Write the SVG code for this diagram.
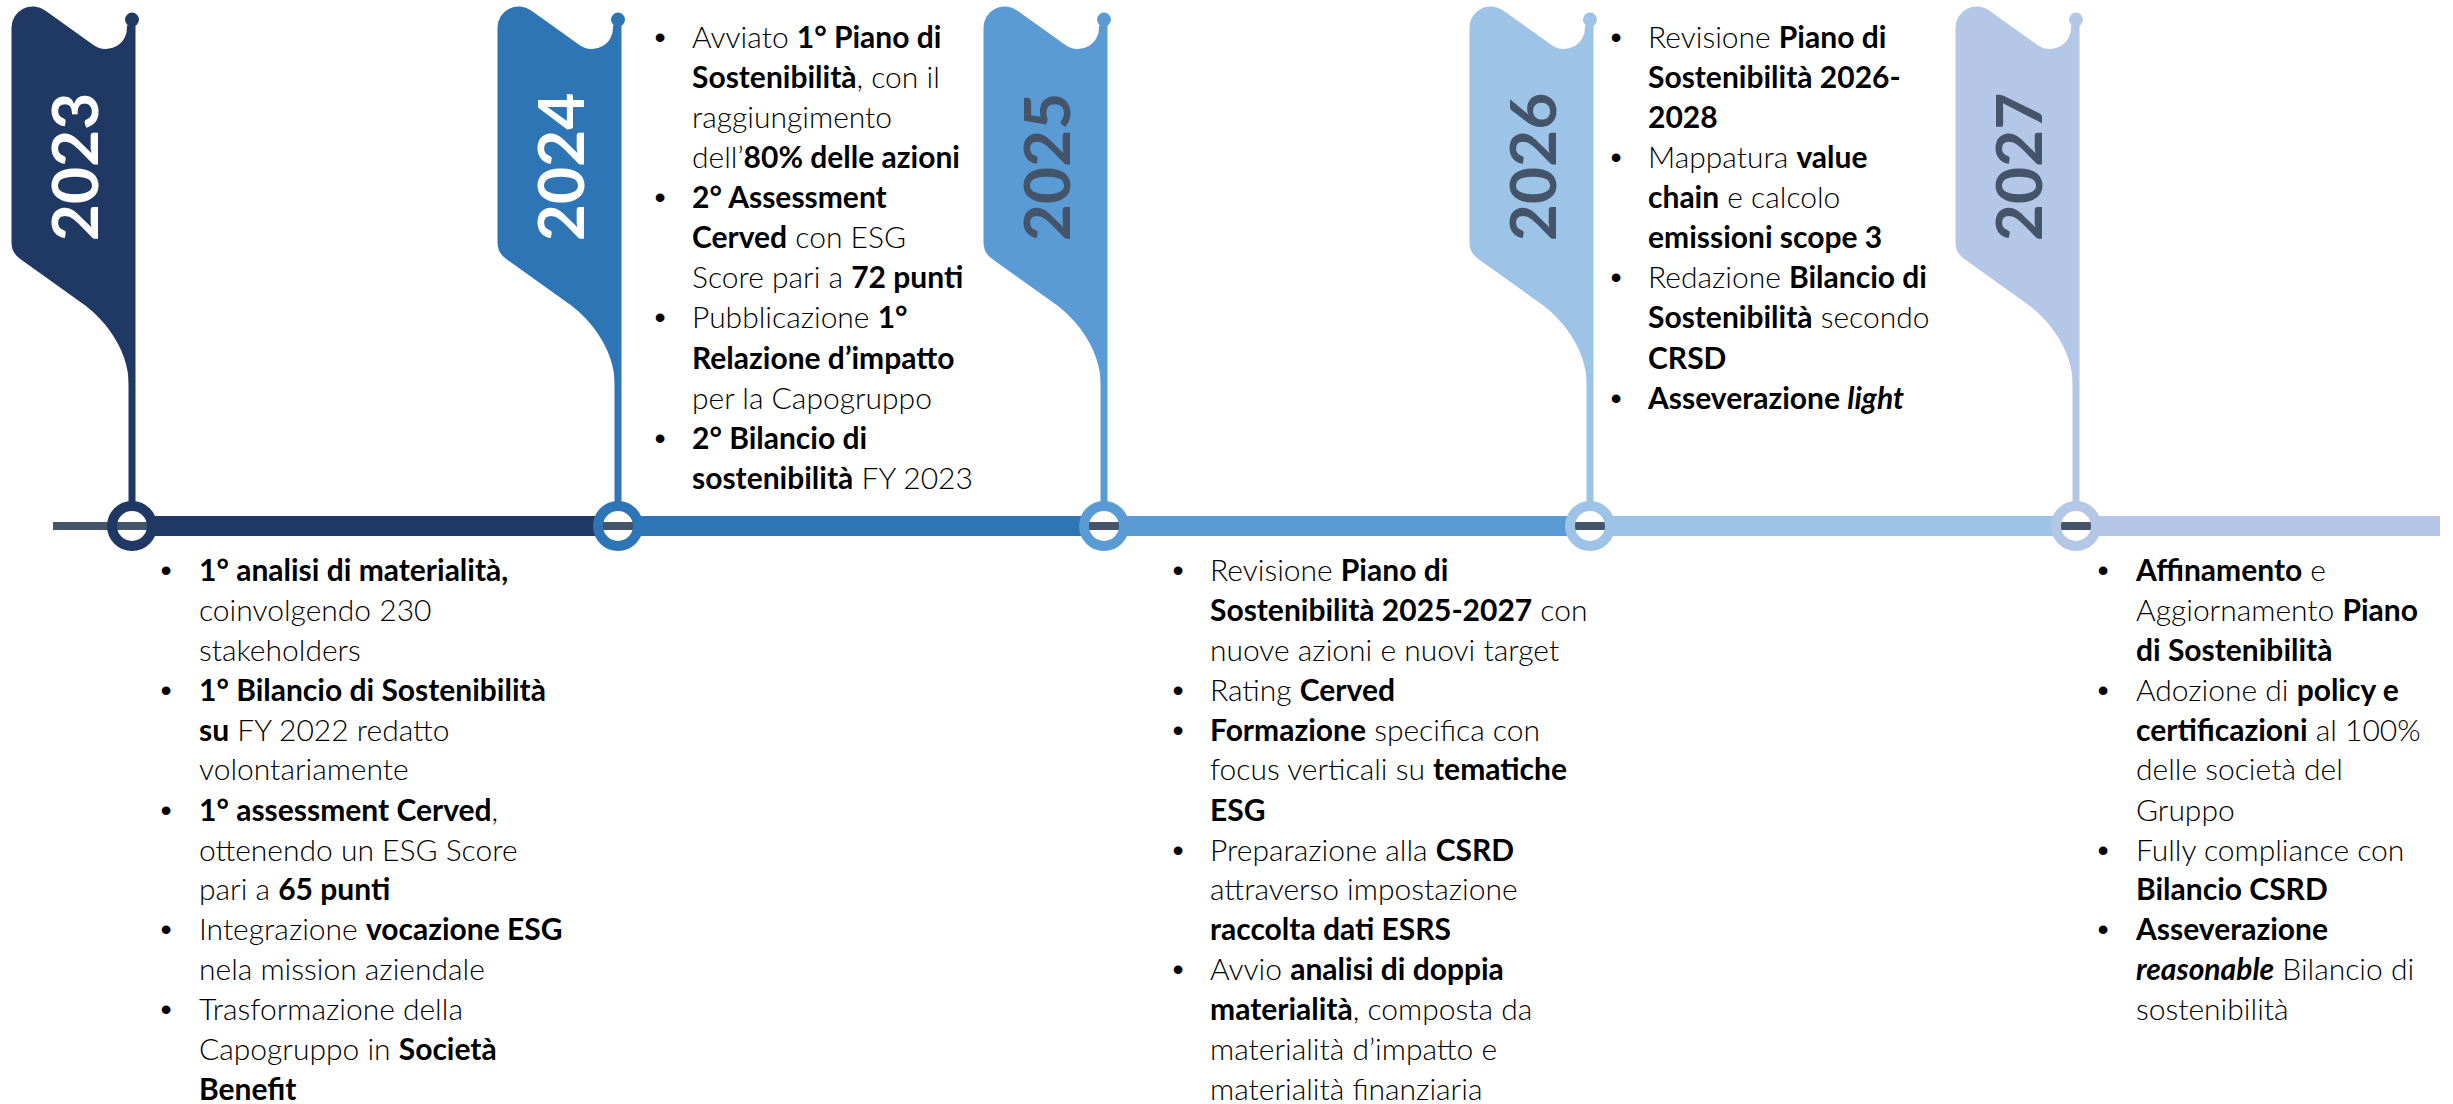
<svg xmlns="http://www.w3.org/2000/svg" width="2453" height="1104" viewBox="0 0 2453 1104">
<defs>
<style>
.t{font-family:Lato,"Open Sans","Liberation Sans",sans-serif;font-size:30px;font-weight:300;fill:#000}
.b{font-weight:700}
.i{font-style:italic}
.bul{font-family:"Liberation Sans",Arial,sans-serif;font-size:32px;fill:#000;text-anchor:middle}
.yr{font-family:Lato,"Open Sans","Liberation Sans",sans-serif;font-size:64px;font-weight:700;text-anchor:middle}
.pole{stroke-width:7;fill:none}
.ring{stroke-width:10;fill:none}
</style>
<path id="flag" d="M -120.5 27.7 A 21.3 21.3 0 0 1 -86.8 10.4 L -38.2 45.2 A 21 21 0 0 0 -5.2 25.5 L -3 25.5 L -3 386 C -3 345 -33 315 -49.5 303.5 L -112.1 258.7 A 20 20 0 0 1 -120.5 242.4 Z"/>
</defs>
<rect width="2453" height="1104" fill="#fff"/>

<g id="timeline">
<rect x="53" y="522" width="2387" height="8" fill="#44546A"/>
<rect x="150" y="516" width="450" height="20" fill="#203864"/>
<rect x="636" y="516" width="450" height="20" fill="#2E75B6"/>
<rect x="1122" y="516" width="450" height="20" fill="#5B9BD5"/>
<rect x="1608" y="516" width="450" height="20" fill="#9DC3E6"/>
<rect x="2094" y="516" width="346" height="20" fill="#B4C7E7"/>
</g>

<g id="flag-2023" transform="translate(132,0)">
<use href="#flag" fill="#203864"/>
<line class="pole" x1="0" y1="19.6" x2="0" y2="506" stroke="#203864"/>
<circle cx="0" cy="19.6" r="7" fill="#203864"/>
<circle class="ring" cx="0" cy="526" r="20" stroke="#203864"/>
<text class="yr" fill="#fff" transform="translate(-34,167) rotate(-90)">2023</text>
</g>
<g id="flag-2024" transform="translate(618,0)">
<use href="#flag" fill="#2E75B6"/>
<line class="pole" x1="0" y1="19.6" x2="0" y2="506" stroke="#2E75B6"/>
<circle cx="0" cy="19.6" r="7" fill="#2E75B6"/>
<circle class="ring" cx="0" cy="526" r="20" stroke="#2E75B6"/>
<text class="yr" fill="#fff" transform="translate(-34,167) rotate(-90)">2024</text>
</g>
<g id="flag-2025" transform="translate(1104,0)">
<use href="#flag" fill="#5B9BD5"/>
<line class="pole" x1="0" y1="19.6" x2="0" y2="506" stroke="#5B9BD5"/>
<circle cx="0" cy="19.6" r="7" fill="#5B9BD5"/>
<circle class="ring" cx="0" cy="526" r="20" stroke="#5B9BD5"/>
<text class="yr" fill="#44546A" transform="translate(-34,167) rotate(-90)">2025</text>
</g>
<g id="flag-2026" transform="translate(1590,0)">
<use href="#flag" fill="#9DC3E6"/>
<line class="pole" x1="0" y1="19.6" x2="0" y2="506" stroke="#9DC3E6"/>
<circle cx="0" cy="19.6" r="7" fill="#9DC3E6"/>
<circle class="ring" cx="0" cy="526" r="20" stroke="#9DC3E6"/>
<text class="yr" fill="#44546A" transform="translate(-34,167) rotate(-90)">2026</text>
</g>
<g id="flag-2027" transform="translate(2076,0)">
<use href="#flag" fill="#B4C7E7"/>
<line class="pole" x1="0" y1="19.6" x2="0" y2="506" stroke="#B4C7E7"/>
<circle cx="0" cy="19.6" r="7" fill="#B4C7E7"/>
<circle class="ring" cx="0" cy="526" r="20" stroke="#B4C7E7"/>
<text class="yr" fill="#44546A" transform="translate(-34,167) rotate(-90)">2027</text>
</g>

<g id="text-2023">
<text class="bul" x="166" y="581">•</text>
<text class="bul" x="166" y="701">•</text>
<text class="bul" x="166" y="821">•</text>
<text class="bul" x="166" y="940">•</text>
<text class="bul" x="166" y="1020">•</text>
<text class="t" x="199" y="581"><tspan class="b">1° analisi di materialità,</tspan></text>
<text class="t" x="199" y="621">coinvolgendo 230</text>
<text class="t" x="199" y="661">stakeholders</text>
<text class="t" x="199" y="701"><tspan class="b">1° Bilancio di Sostenibilità</tspan></text>
<text class="t" x="199" y="741"><tspan class="b">su</tspan> FY 2022 redatto</text>
<text class="t" x="199" y="780">volontariamente</text>
<text class="t" x="199" y="821"><tspan class="b">1° assessment Cerved</tspan>,</text>
<text class="t" x="199" y="861">ottenendo un ESG Score</text>
<text class="t" x="199" y="900">pari a <tspan class="b">65 punti</tspan></text>
<text class="t" x="199" y="940">Integrazione <tspan class="b">vocazione ESG</tspan></text>
<text class="t" x="199" y="980">nela mission aziendale</text>
<text class="t" x="199" y="1020">Trasformazione della</text>
<text class="t" x="199" y="1060">Capogruppo in <tspan class="b">Società</tspan></text>
<text class="t" x="199" y="1100"><tspan class="b">Benefit</tspan></text>
</g>

<g id="text-2024">
<text class="bul" x="660" y="47.5">•</text>
<text class="bul" x="660" y="208">•</text>
<text class="bul" x="660" y="328">•</text>
<text class="bul" x="660" y="448.5">•</text>
<text class="t" x="692" y="47.5">Avviato <tspan class="b">1° Piano di</tspan></text>
<text class="t" x="692" y="87.5"><tspan class="b">Sostenibilità</tspan>, con il</text>
<text class="t" x="692" y="127.5">raggiungimento</text>
<text class="t" x="692" y="168">dell’<tspan class="b">80% delle azioni</tspan></text>
<text class="t" x="692" y="208"><tspan class="b">2° Assessment</tspan></text>
<text class="t" x="692" y="248"><tspan class="b">Cerved</tspan> con ESG</text>
<text class="t" x="692" y="288">Score pari a <tspan class="b">72 punti</tspan></text>
<text class="t" x="692" y="328">Pubblicazione <tspan class="b">1°</tspan></text>
<text class="t" x="692" y="368.5"><tspan class="b">Relazione d’impatto</tspan></text>
<text class="t" x="692" y="408.5">per la Capogruppo</text>
<text class="t" x="692" y="448.5"><tspan class="b">2° Bilancio di</tspan></text>
<text class="t" x="692" y="488.5"><tspan class="b">sostenibilità</tspan> FY 2023</text>
</g>

<g id="text-2025">
<text class="bul" x="1178" y="581">•</text>
<text class="bul" x="1178" y="701">•</text>
<text class="bul" x="1178" y="741">•</text>
<text class="bul" x="1178" y="861">•</text>
<text class="bul" x="1178" y="980">•</text>
<text class="t" x="1210" y="581">Revisione <tspan class="b">Piano di</tspan></text>
<text class="t" x="1210" y="621"><tspan class="b">Sostenibilità 2025-2027</tspan> con</text>
<text class="t" x="1210" y="661">nuove azioni e nuovi target</text>
<text class="t" x="1210" y="701">Rating <tspan class="b">Cerved</tspan></text>
<text class="t" x="1210" y="741"><tspan class="b">Formazione</tspan> specifica con</text>
<text class="t" x="1210" y="780">focus verticali su <tspan class="b">tematiche</tspan></text>
<text class="t" x="1210" y="821"><tspan class="b">ESG</tspan></text>
<text class="t" x="1210" y="861">Preparazione alla <tspan class="b">CSRD</tspan></text>
<text class="t" x="1210" y="900">attraverso impostazione</text>
<text class="t" x="1210" y="940"><tspan class="b">raccolta dati ESRS</tspan></text>
<text class="t" x="1210" y="980">Avvio <tspan class="b">analisi di doppia</tspan></text>
<text class="t" x="1210" y="1020"><tspan class="b">materialità</tspan>, composta da</text>
<text class="t" x="1210" y="1060">materialità d’impatto e</text>
<text class="t" x="1210" y="1100">materialità finanziaria</text>
</g>

<g id="text-2026">
<text class="bul" x="1616" y="47.5">•</text>
<text class="bul" x="1616" y="168">•</text>
<text class="bul" x="1616" y="288">•</text>
<text class="bul" x="1616" y="408.5">•</text>
<text class="t" x="1648" y="47.5">Revisione <tspan class="b">Piano di</tspan></text>
<text class="t" x="1648" y="87.5"><tspan class="b">Sostenibilità 2026-</tspan></text>
<text class="t" x="1648" y="127.5"><tspan class="b">2028</tspan></text>
<text class="t" x="1648" y="168">Mappatura <tspan class="b">value</tspan></text>
<text class="t" x="1648" y="208"><tspan class="b">chain</tspan> e calcolo</text>
<text class="t" x="1648" y="248"><tspan class="b">emissioni scope 3</tspan></text>
<text class="t" x="1648" y="288">Redazione <tspan class="b">Bilancio di</tspan></text>
<text class="t" x="1648" y="328"><tspan class="b">Sostenibilità</tspan> secondo</text>
<text class="t" x="1648" y="368.5"><tspan class="b">CRSD</tspan></text>
<text class="t" x="1648" y="408.5"><tspan class="b">Asseverazione <tspan class="i">light</tspan></tspan></text>
</g>

<g id="text-2027">
<text class="bul" x="2103" y="581">•</text>
<text class="bul" x="2103" y="701">•</text>
<text class="bul" x="2103" y="861">•</text>
<text class="bul" x="2103" y="940">•</text>
<text class="t" x="2136" y="581"><tspan class="b">Affinamento</tspan> e</text>
<text class="t" x="2136" y="621">Aggiornamento <tspan class="b">Piano</tspan></text>
<text class="t" x="2136" y="661"><tspan class="b">di Sostenibilità</tspan></text>
<text class="t" x="2136" y="701">Adozione di <tspan class="b">policy e</tspan></text>
<text class="t" x="2136" y="741"><tspan class="b">certificazioni</tspan> al 100%</text>
<text class="t" x="2136" y="780">delle società del</text>
<text class="t" x="2136" y="821">Gruppo</text>
<text class="t" x="2136" y="861">Fully compliance con</text>
<text class="t" x="2136" y="900"><tspan class="b">Bilancio CSRD</tspan></text>
<text class="t" x="2136" y="940"><tspan class="b">Asseverazione</tspan></text>
<text class="t" x="2136" y="980"><tspan class="b i">reasonable</tspan> Bilancio di</text>
<text class="t" x="2136" y="1020">sostenibilità</text>
</g>
</svg>
